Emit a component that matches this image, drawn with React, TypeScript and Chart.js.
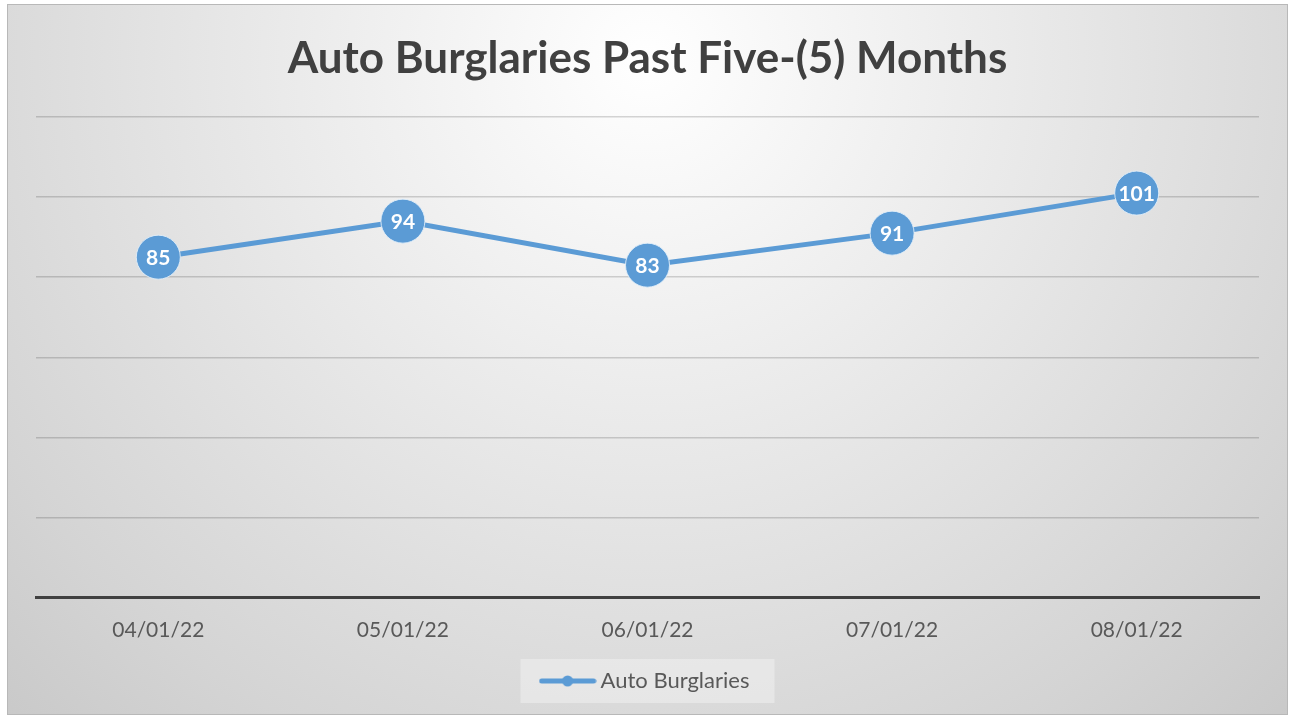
import React, { useEffect, useRef } from "react";
import { Chart, registerables } from "chart.js";

Chart.register(...registerables);

const categories = ["04/01/22", "05/01/22", "06/01/22", "07/01/22", "08/01/22"];
const burglaries = [85, 94, 83, 91, 101];
const seriesName = "Auto Burglaries";
const chartTitle = "Auto Burglaries Past Five-(5) Months";
const yMin = 0;
const yMax = 120;
const yStep = 20;

const BLUE = "#5b9bd5";
const FONT = "Lato, 'Open Sans', sans-serif";

function makeLegendMarker(): HTMLCanvasElement {
  const c = document.createElement("canvas");
  c.width = 58;
  c.height = 12;
  const ctx = c.getContext("2d")!;
  ctx.strokeStyle = BLUE;
  ctx.lineWidth = 5;
  ctx.lineCap = "round";
  ctx.beginPath();
  ctx.moveTo(3, 6);
  ctx.lineTo(55, 6);
  ctx.stroke();
  ctx.fillStyle = BLUE;
  ctx.beginPath();
  ctx.arc(29, 6, 5.5, 0, Math.PI * 2);
  ctx.fill();
  return c;
}

const backgroundPlugin = {
  id: "panelBackground",
  beforeDraw(chart: any) {
    const ctx = chart.ctx;
    const w = chart.width;
    const h = chart.height;
    ctx.save();
    ctx.fillStyle = "#ffffff";
    ctx.fillRect(0, 0, w, h);
    const x0 = 7, y0 = 4, x1 = 1288, y1 = 715;
    const g = ctx.createRadialGradient(647, 60, 0, 647, 60, 1000);
    g.addColorStop(0, "#ffffff");
    g.addColorStop(0.75, "#d4d4d4");
    g.addColorStop(1, "#c4c4c4");
    ctx.fillStyle = g;
    ctx.fillRect(x0, y0, x1 - x0, y1 - y0);
    ctx.strokeStyle = "#b8b8b8";
    ctx.lineWidth = 1;
    ctx.strokeRect(x0 + 0.5, y0 + 0.5, x1 - x0 - 1, y1 - y0 - 1);
    const lg = chart.legend;
    if (lg && lg.legendHitBoxes && lg.legendHitBoxes.length) {
      const hb = lg.legendHitBoxes[0];
      const cx = hb.left + hb.width / 2;
      const cy = hb.top + hb.height / 2;
      ctx.fillStyle = "rgba(240,240,240,0.55)";
      ctx.fillRect(cx - 127, cy - 22, 254, 44);
    }
    ctx.restore();
  },
};

const dataLabelPlugin = {
  id: "pointValueLabels",
  afterDatasetsDraw(chart: any) {
    const ctx = chart.ctx;
    chart.data.datasets.forEach((ds: any, i: number) => {
      const meta = chart.getDatasetMeta(i);
      meta.data.forEach((pt: any, j: number) => {
        ctx.save();
        ctx.fillStyle = "#ffffff";
        ctx.font = "bold 21px " + FONT;
        ctx.textAlign = "center";
        ctx.textBaseline = "middle";
        ctx.fillText(String(ds.data[j]), pt.x, pt.y + 1);
        ctx.restore();
      });
    });
  },
};

export default function App() {
  const ref = useRef<HTMLCanvasElement | null>(null);
  useEffect(() => {
    if (!ref.current) return;
    const marker = makeLegendMarker();
    const chart = new Chart(ref.current, {
      type: "line",
      data: {
        labels: categories,
        datasets: [
          {
            label: seriesName,
            data: burglaries,
            borderColor: BLUE,
            backgroundColor: BLUE,
            borderWidth: 5,
            pointRadius: 22,
            pointHoverRadius: 22,
            pointBackgroundColor: BLUE,
            pointBorderColor: "rgba(225,238,250,0.9)",
            pointBorderWidth: 1,
            pointStyle: "circle",
            tension: 0,
            clip: false as any,
          },
        ],
      },
      options: {
        responsive: false,
        animation: false,
        layout: { padding: { left: 36, right: 32, top: 0, bottom: 17 } },
        plugins: {
          title: {
            display: true,
            text: chartTitle,
            color: "#404040",
            font: { family: FONT, size: 44, weight: "bold" },
            padding: { top: 32.6, bottom: 31.6 },
          },
          legend: {
            display: true,
            position: "bottom",
            labels: {
              color: "#595959",
              font: { family: FONT, size: 22 },
              usePointStyle: true,
              pointStyle: marker as any,
              pointStyleWidth: 44,
              padding: 7.2,
            },
          },
          tooltip: { enabled: false },
        },
        scales: {
          x: {
            offset: true,
            grid: { display: false, drawTicks: false },
            border: { display: true, color: "#404040", width: 3 },
            ticks: {
              color: "#595959",
              font: { family: FONT, size: 21 },
              padding: 20,
            },
          },
          y: {
            min: yMin,
            max: yMax,
            ticks: { display: false, stepSize: yStep },
            grid: { color: "rgba(0,0,0,0.16)", lineWidth: 1.5, drawTicks: false },
            border: { display: false },
          },
        },
      },
      plugins: [backgroundPlugin, dataLabelPlugin],
    });
    return () => chart.destroy();
  }, []);
  return (
    <div style={{ position: "absolute", left: 0, top: 0, width: 1291, height: 719 }}>
      <canvas ref={ref} width={1291} height={719} />
    </div>
  );
}
